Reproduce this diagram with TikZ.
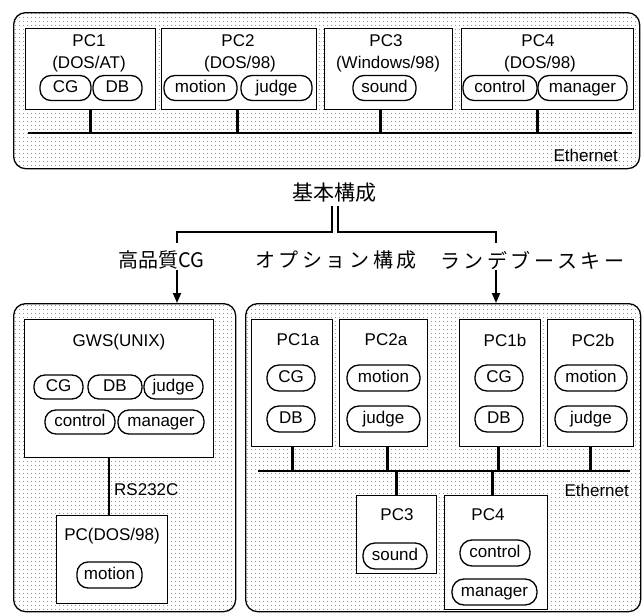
\documentclass[tikz,border=0pt]{standalone}
\usepackage{fontspec}
\setmainfont{Liberation Sans}
\newfontfamily\jp{Noto Sans CJK JP}
\newfontfamily\jpw[LetterSpace=18]{Noto Sans CJK JP}
\usetikzlibrary{patterns.meta,arrows.meta}
\begin{document}
\begin{tikzpicture}[x=1pt,y=-1pt,
  panel/.style={draw, line width=1.3pt, rounded corners=12pt, anchor=north west, inner sep=0pt,
    pattern={Dots[distance=4pt,radius=0.5pt]}, pattern color=black!70},
  pcbox/.style={draw, fill=white, line width=1.3pt, anchor=north west, inner sep=0pt},
  proc/.style={draw, fill=white, line width=1.3pt, rounded corners=11pt, minimum height=25pt,
    inner sep=0pt, text height=12pt, text depth=3pt, font=\fontsize{17}{17}\selectfont},
  procb/.style={proc, minimum height=26pt, rounded corners=12pt},
  lbl/.style={inner sep=0pt, font=\fontsize{17}{20}\selectfont},
  bus/.style={line width=2.8pt},
  link/.style={line width=2pt},
  arr/.style={line width=1.8pt, -{Triangle[width=8pt,length=10pt]}}
]
\useasboundingbox (0,0) rectangle (643,613);

% ---------- top panel ----------
\node[panel, minimum width=626pt, minimum height=156pt] (top) at (13,12) {};
\node[pcbox, minimum width=130pt, minimum height=81pt] (pc1) at (25,28) {};
\node[pcbox, minimum width=155pt, minimum height=81pt] (pc2) at (161,28) {};
\node[pcbox, minimum width=128pt, minimum height=81pt] (pc3) at (324,28) {};
\node[pcbox, minimum width=172pt, minimum height=81pt] (pc4) at (461,28) {};

\node[lbl] (pc1t) at (89,41) {PC1};
\node[lbl] (pc1s) at (89,64) {(DOS/AT)};
\node[lbl] (pc2t) at (238,41) {PC2};
\node[lbl] (pc2s) at (240,64) {(DOS/98)};
\node[lbl] (pc3t) at (386,41) {PC3};
\node[lbl] (pc3s) at (388,64) {(Windows/98)};
\node[lbl] (pc4t) at (538,41) {PC4};
\node[lbl] (pc4s) at (540,64) {(DOS/98)};

\node[proc, minimum width=51pt] (cg1) at (65.5,88) {CG};
\node[proc, minimum width=49pt] (db1) at (117.5,88) {DB};
\node[proc, minimum width=73pt] (mo1) at (200.5,88) {motion};
\node[proc, minimum width=71pt] (ju1) at (276.5,88) {judge};
\node[proc, minimum width=63pt] (so1) at (384.5,88) {sound};
\node[proc, minimum width=74pt] (co1) at (500,88) {control};
\node[proc, minimum width=89pt] (ma1) at (582.5,88) {manager};

\coordinate (busAL) at (28,133);
\coordinate (busAR) at (632,133);
\draw[bus] (busAL) -- (busAR);
\draw[bus] (pc1.south) -- (pc1.south |- busAL);
\draw[bus] ([xshift=-1.5pt]pc2.south) -- ([xshift=-1.5pt]pc2.south |- busAL);
\draw[bus] ([xshift=-8pt]pc3.south) -- ([xshift=-8pt]pc3.south |- busAL);
\draw[bus] ([xshift=-10pt]pc4.south) -- ([xshift=-10pt]pc4.south |- busAL);
\node[lbl, anchor=east] (eth1) at (618,155) {Ethernet};

% ---------- middle ----------
\node[inner sep=0pt, font=\jp\fontsize{21}{21}\selectfont] (basic) at (334,193) {基本構成};
\coordinate (brL) at (177,232);
\coordinate (brR) at (496,232);
\draw[link] ([xshift=-2pt,yshift=-3pt]basic.south) -- ([xshift=-2pt]basic.south |- brL) -- (brL) -- ++(0,11);
\draw[link] ([xshift=4pt,yshift=-3pt]basic.south) -- ([xshift=4pt]basic.south |- brR) -- (brR) -- ++(0,11);

\node[inner sep=0pt, anchor=west, font=\jp\fontsize{20}{20}\selectfont] (hq) at (118,260) {高品質CG};
\node[inner sep=0pt, anchor=west, font=\jpw\fontsize{20}{20}\selectfont] (opt) at (255,260) {オプション構成};
\node[inner sep=0pt, anchor=west, font=\jpw\fontsize{20}{20}\selectfont] (rdv) at (440,260) {ランデブースキー};

% ---------- lower left panel ----------
\node[panel, minimum width=222pt, minimum height=308pt] (left) at (13,303) {};
\coordinate (aL) at (177,270);
\draw[arr] (aL) -- (aL |- left.north);

\node[pcbox, minimum width=189pt, minimum height=138pt] (gws) at (24,319) {};
\node[lbl] (gwst) at (119,342) {GWS(UNIX)};
\node[proc, minimum width=49pt, minimum height=24pt] (cg2) at (58.5,387) {CG};
\node[proc, minimum width=54pt, minimum height=24pt] (db2) at (115,387) {DB};
\node[proc, minimum width=59pt, minimum height=24pt] (ju2) at (173.5,387) {judge};
\node[proc, minimum width=70pt, minimum height=24pt] (co2) at (80,422) {control};
\node[proc, minimum width=86pt, minimum height=24pt] (ma2) at (161,422) {manager};

\node[pcbox, minimum width=111pt, minimum height=88pt] (pcd) at (56,515) {};
\node[lbl] (pcdt) at (112,536) {PC(DOS/98)};
\node[proc, minimum width=65pt, minimum height=26pt] (mo2) at (109.5,575) {motion};
\draw[link] ([xshift=-10.5pt]gws.south) -- ([xshift=-10.5pt]gws.south |- pcd.north);
\node[lbl, anchor=west] (rs) at (114,490) {RS232C};

% ---------- lower right panel ----------
\node[panel, minimum width=395pt, minimum height=308pt] (right) at (245,303) {};
\coordinate (aR) at (496,270);
\draw[arr] (aR) -- (aR |- right.north);

\node[pcbox, minimum width=81pt, minimum height=127pt] (p1a) at (251,319) {};
\node[pcbox, minimum width=88pt, minimum height=127pt] (p2a) at (339,319) {};
\node[pcbox, minimum width=81pt, minimum height=127pt] (p1b) at (459,319) {};
\node[pcbox, minimum width=86pt, minimum height=127pt] (p2b) at (547,319) {};
\node[lbl] (p1at) at (298,340) {PC1a};
\node[lbl] (p2at) at (386,340) {PC2a};
\node[lbl] (p1bt) at (505,340) {PC1b};
\node[lbl] (p2bt) at (593,340) {PC2b};

\node[procb, minimum width=48pt] (cg3) at (291,378) {CG};
\node[procb, minimum width=48pt] (db3) at (291,419) {DB};
\node[procb, minimum width=73pt] (mo3) at (383.5,378) {motion};
\node[procb, minimum width=73pt] (ju3) at (383.5,419) {judge};
\node[procb, minimum width=48pt] (cg4) at (499,378) {CG};
\node[procb, minimum width=48pt] (db4) at (499,419) {DB};
\node[procb, minimum width=72pt] (mo4) at (591,378) {motion};
\node[procb, minimum width=72pt] (ju4) at (591,419) {judge};

\node[pcbox, minimum width=80pt, minimum height=78pt] (p3) at (356,495) {};
\node[pcbox, minimum width=103pt, minimum height=114pt] (p4) at (444,495) {};
\node[lbl] (p3t) at (397,515) {PC3};
\node[lbl] (p4t) at (488,515) {PC4};
\node[procb, minimum width=64pt] (so3) at (395,556) {sound};
\node[procb, minimum width=70pt] (co3) at (495,553) {control};
\node[procb, minimum width=85pt] (ma3) at (494.5,592) {manager};

\coordinate (busBL) at (258,471);
\coordinate (busBR) at (630,471);
\draw[bus] (busBL) -- (busBR);
\draw[bus] (p1a.south) -- (p1a.south |- busBL);
\draw[bus] ([xshift=4pt]p2a.south) -- ([xshift=4pt]p2a.south |- busBL);
\draw[bus] ([xshift=-1.5pt]p1b.south) -- ([xshift=-1.5pt]p1b.south |- busBL);
\draw[bus] (p2b.south) -- (p2b.south |- busBL);
\draw[bus] (p3.north) -- (p3.north |- busBL);
\draw[bus] ([xshift=-3.5pt]p4.north) -- ([xshift=-3.5pt]p4.north |- busBL);
\node[lbl, anchor=east] (eth2) at (629,490) {Ethernet};
\end{tikzpicture}
\end{document}
